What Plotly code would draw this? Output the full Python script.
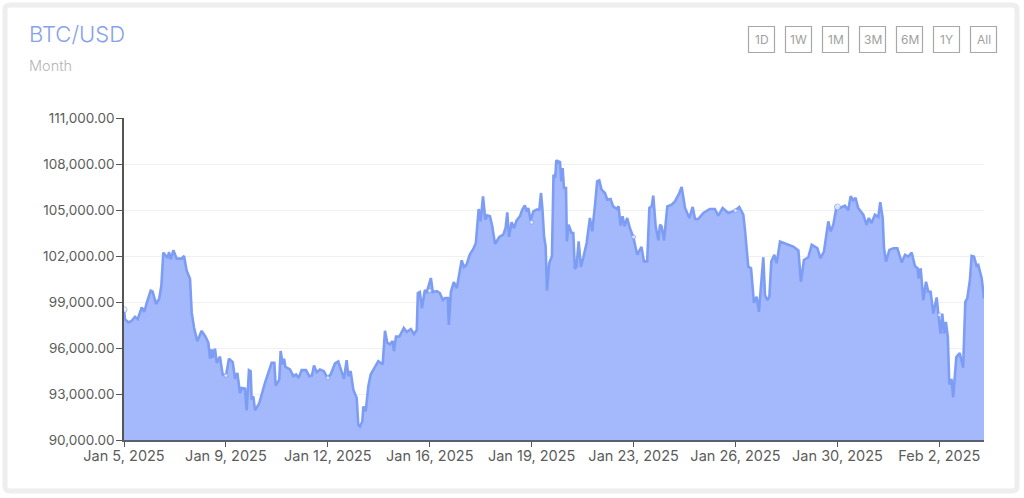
import pandas as pd
import plotly.graph_objects as go

# hours after Jan 5 2025 00:00
hours = [0, 0.8, 3.6, 6.3, 9.1, 11.3, 14.6, 16.8, 18.7, 22, 23.6, 26.4, 29.1, 30.8, 32.4, 33.8, 36, 37.1, 38.5, 40.7,
         43.4, 47.5, 49.5, 51.6, 54.4, 55.8, 57.7, 60.4, 64, 66.8, 69.5, 70.9, 72.3, 73.1, 75, 76.4, 79.1, 81.3, 84.1,
         86.5, 89.6, 91.5, 93.4, 95.6, 97, 99.7, 101.1, 103, 104.4, 105.2, 106.6, 108, 111.5, 116.2, 119.8, 121.7,
         123.9, 125, 128, 129.1, 130.8, 131.9, 133, 136.8, 139.6, 141.8, 144, 146.4, 150, 152.7, 154.9, 156.6, 158.8,
         161.5, 164.8, 167.6, 170.3, 173.9, 176.6, 178.6, 181.3, 183.5, 184.9, 186.8, 189, 191.8, 193.1, 194.5, 196.4,
         197.3, 199.2, 201.4, 203.3, 206.9, 209.6, 213.2, 215.1, 217, 219.2, 221.4, 222.5, 224.2, 227,
         230.6, 233, 236.4, 239, 241.3, 242.2, 243.8, 245.5, 248, 249.6, 252.9, 254.5, 257.8, 260.3, 262.8, 264.4,
         266.9, 267.7, 269.4, 271.8, 274.3, 278.3, 280.2, 282.3, 285, 287.9, 290, 292.3, 293.9, 295.9, 297.8, 299.4,
         301.6, 303.5, 305.8, 309.3, 312.6, 314.5, 315.9, 317.3, 319.5, 321.4, 323.6, 326.3, 328.3, 330.4, 331.8,
         333.2, 335.1, 337.4, 340.1, 342.3, 343.7, 344.8, 346.2, 347.5, 348.6, 350.5, 352.7, 354, 355.4, 356.3, 358.2,
         359.3, 360.4, 361.5, 362.6, 364.3, 365, 366.4, 368.9, 370.3, 371.6, 373, 374.7, 376.6, 378.5, 381.3, 384,
         385.9, 388.1, 390, 391.7, 393.6, 396.4, 398.3, 401, 403.2, 406, 407.6, 409.3, 410.9, 412.5, 414.7, 416.9,
         419.7, 423, 426.5, 428.5, 431.2, 433, 434.9, 436.2, 438.2, 440.4, 441.8, 443.1, 445.1, 447.8, 451.4, 454.1,
         457.7, 459.6, 462.4, 465.9, 468.7, 470.6, 473.3, 477.5, 482.8, 486.9, 489.8, 493.4, 498, 503.5, 507.1, 510.4,
         511.8, 514.5, 516.8, 519.2, 521.4, 523.3, 525.5, 526.9, 528.3, 530.2, 531.9, 533.5, 536, 537.9, 540.7, 542.8,
         547.5, 551.6, 555.8, 557.1, 557.9, 560.4, 564, 566.8, 571.4, 574.1, 576.9, 580.5, 582.4, 584.6, 587.3, 590.1,
         594.2, 596.9, 598.9, 601, 602.9, 605.1, 609.3, 612, 613.9, 616.1, 618.9, 621.7, 623.3, 625.3, 626.4, 628,
         630.8, 634.1, 637.4, 641, 643.7, 646.5, 649.2, 651.9, 654.1, 654.9, 656.6, 658.8, 661, 662.9, 664.8, 667,
         669.8, 671.1, 673, 674.4, 676, 677.4, 679, 680.2, 682, 683.4, 684.8, 686, 688.8, 691.6, 693.4, 695, 697.2,
         698.6, 700.5, 702.7, 704.1, 706.9, 708.8]

prices = [98497, 97884, 97665, 97775, 98037, 97884, 98650, 98366, 98935, 99745, 99680, 98870, 99242, 100074, 102220,
          102090, 101870, 102264, 101782, 102373, 101826, 101826, 102000, 101060, 100512, 98322, 97337, 96440, 97118,
          96789, 96350, 95300, 95913, 95365, 95957, 95037, 95431, 94270, 94205, 95300, 95080, 93986, 94380, 93066,
          93395, 93350, 91927, 94555, 94490, 92630, 92850, 91927, 92409, 93723, 94643, 95037, 95037, 93548, 93942,
          95803, 94928, 95300, 94774, 94600, 94161, 94270, 94051, 94555, 94555, 94161, 94205, 94862, 94424, 94600,
          94490, 94051, 94270, 94993, 95125, 94600, 93986, 95212, 94161, 94490, 93285, 92737, 90985, 90876, 91205,
          92190, 91862, 93504, 94270, 94774, 95146, 94928, 97118, 96350, 96240, 96460, 95803, 96745, 96750,
          97302, 97040, 97237, 96911, 97172, 99584, 99650, 98606, 99780, 99650, 100562, 99650, 99715, 99584, 99128,
          99258, 99258, 97498, 99650, 100302, 99910, 101717, 101282, 101434, 102087, 102456, 102847, 105065, 104260,
          105891, 104369, 104652, 104587, 103935, 102782, 103239, 103391, 103826, 104848, 103239, 104196, 103826,
          104326, 104587, 105022, 105304, 104913, 105130, 104326, 104913, 105022, 105022, 106109, 105130, 103282,
          102630, 99760, 101543, 101978, 107304, 107087, 108239, 108109, 108174, 106870, 107739, 106435, 106435,
          102956, 104043, 103500, 103500, 101152, 101326, 102956, 101282, 101869, 102847, 104478, 103609, 105239,
          106870, 106935, 106326, 106109, 105674, 105717, 105239, 105065, 105239, 103978, 104587, 103935, 104478,
          103826, 103239, 102087, 102587, 101652, 101652, 105130, 105239, 105935, 103935, 103022, 104043, 103935,
          103022, 105239, 105348, 105565, 106109, 106508, 105131, 104476, 105197, 104410, 104410, 104803, 105066,
          105066, 104629, 105131, 104803, 104956, 105197, 104694, 103711, 101307, 101198, 98948, 99341, 98358, 100652,
          101919, 99450, 99122, 99341, 101635, 102072, 101526, 102946, 102880, 102728, 102618, 102356, 101307, 100324,
          101744, 101919, 102728, 102509, 101854, 102291, 104257, 103602, 104039, 105240, 105131, 105284, 104978,
          105896, 105634, 105787, 105131, 104694, 104039, 104476, 104148, 104694, 104541, 105503, 104476, 102509,
          101635, 102400, 102509, 102509, 101570, 102072, 101962, 102225, 101351, 101198, 100543, 101198, 99122,
          100324, 99669, 99669, 98248, 99297, 98248, 96937, 98248, 96937, 97702, 96719, 93616, 93988, 92786, 94097,
          95408, 95670, 94708, 99013, 99232, 100433, 102007, 101962, 101351, 101416, 100543, 99232]

# x axis ticks sit every 3.5 days, the labels round up to the day
tick_hours = [0, 84, 168, 252, 336, 420, 504, 588, 672]
tick_labels = ["Jan 5, 2025", "Jan 9, 2025", "Jan 12, 2025", "Jan 16, 2025", "Jan 19, 2025",
               "Jan 23, 2025", "Jan 26, 2025", "Jan 30, 2025", "Feb 2, 2025"]
dot_prices = [98497, 94205, 94051, 99739, 104195, 103240, 104956, 105197, 98160]
dot_sizes = [6, 4, 4, 4, 4, 4, 4, 6, 4]

y_ticks = [90000, 93000, 96000, 99000, 102000, 105000, 108000, 111000]
range_labels = ["1D", "1W", "1M", "3M", "6M", "1Y", "All"]

FONT = "Inter, Lato, sans-serif"
W, H = 1024, 498
L, R, T, B = 124, 984, 118, 440


def px(x):
    return (x - L) / (R - L)


def py(y):
    return (B - y) / (B - T)


start = pd.Timestamp("2025-01-05")
dates = start + pd.to_timedelta(hours, unit="h")
tick_dates = start + pd.to_timedelta(tick_hours, unit="h")

fig = go.Figure()
fig.add_trace(go.Scatter(x=dates, y=prices, mode="lines", fill="tozeroy", fillcolor="#a3b9fb",
                         line=dict(color="#7d9df5", width=2.6)))
fig.add_trace(go.Scatter(x=tick_dates, y=dot_prices, mode="markers",
                         marker=dict(color="white", size=dot_sizes, line=dict(color="#7d9df5", width=1))))

# card outline
shapes = [dict(type="path", xref="paper", yref="paper", layer="below", line=dict(color="#eeeeee", width=5),
               fillcolor="white",
               path=f"M {px(10)} {py(5)} L {px(1012)} {py(5)} Q {px(1017)} {py(5)} {px(1017)} {py(10)} "
                    f"L {px(1017)} {py(486)} Q {px(1017)} {py(491)} {px(1012)} {py(491)} "
                    f"L {px(10)} {py(491)} Q {px(5)} {py(491)} {px(5)} {py(486)} "
                    f"L {px(5)} {py(10)} Q {px(5)} {py(5)} {px(10)} {py(5)} Z")]

annotations = [
    dict(text="BTC/USD", xref="paper", yref="paper", x=px(27), y=py(34), xanchor="left", yanchor="middle",
         showarrow=False, font=dict(family=FONT, size=22, color="#86a1ee", weight=300)),
    dict(text="Month", xref="paper", yref="paper", x=px(27), y=py(66), xanchor="left", yanchor="middle",
         showarrow=False, font=dict(family=FONT, size=14.5, color="#b5b5b5", weight=300)),
]
for i, lab in enumerate(range_labels):
    left = 748.5 + i * 37
    shapes.append(dict(type="rect", xref="paper", yref="paper", x0=px(left), x1=px(left + 26),
                       y0=py(26.5), y1=py(52.5), line=dict(color="#a8a8a8", width=1.2)))
    annotations.append(dict(text=lab, xref="paper", yref="paper", x=px(left + 13), y=py(39.5), xanchor="center",
                            yanchor="middle", showarrow=False, font=dict(family=FONT, size=12, color="#a0a0a0")))

fig.update_layout(
    width=W, height=H, margin=dict(l=L, r=W - R, t=T, b=H - B, pad=0),
    paper_bgcolor="white", plot_bgcolor="rgba(0,0,0,0)", showlegend=False,
    shapes=shapes, annotations=annotations,
    font=dict(family=FONT, size=13.5, color="#5c5c5c"),
)
fig.update_xaxes(range=[dates[0], dates[-1]], tickmode="array", tickvals=tick_dates, ticktext=tick_labels,
                 ticks="outside", ticklen=5, tickcolor="#555555", showline=True, linecolor="#5a6070", linewidth=1.5,
                 showgrid=False, zeroline=False, tickfont=dict(size=14.5), ticklabelstandoff=-3)
fig.update_yaxes(range=[90000, 111000], tickmode="array", tickvals=y_ticks, tickformat=",.2f",
                 ticks="outside", ticklen=6, tickcolor="#555555", showline=True, linecolor="#555555", linewidth=1.5,
                 showgrid=True, gridcolor="#f0f0f0", zeroline=False, layer="below traces", ticklabelstandoff=-1)

fig.write_html("out.html", config=dict(displayModeBar=False), post_script="document.body.style.margin='0';")
